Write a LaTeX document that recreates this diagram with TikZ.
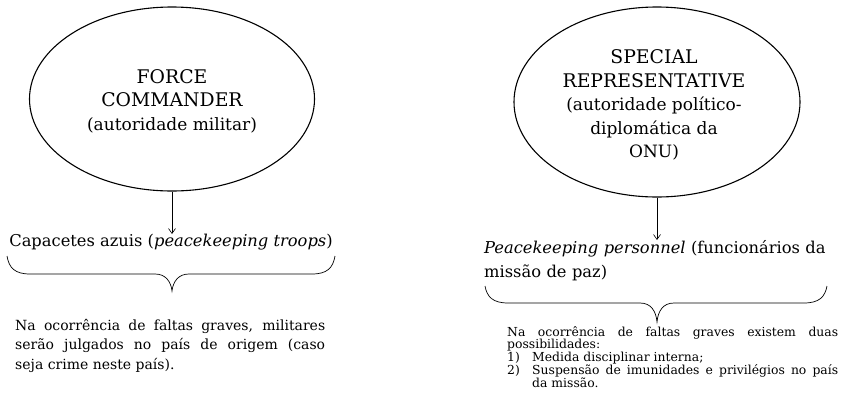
\documentclass[tikz,border=0pt]{standalone}
\usepackage{fontspec}
\setmainfont{DejaVu Serif}
\usetikzlibrary{shapes.geometric,arrows.meta}
\newcommand{\capsz}{\fontsize{18.8}{23.5}\selectfont}
\newcommand{\lowsz}{\fontsize{17}{23.5}\selectfont}
\tikzset{
  oval/.style={ellipse, draw, line width=1.1pt, inner sep=0pt, align=center,
    font=\lowsz},
  arr/.style={-{Straight Barb[length=5pt,width=7pt]}, line width=0.6pt},
  bigtext/.style={inner sep=0pt, font=\fontsize{16.3}{24}\selectfont},
  para/.style={inner sep=0pt, align=justify},
  bracepath/.style={line width=0.7pt}
}
\begin{document}
\begin{tikzpicture}[x=1pt,y=-1pt]
\useasboundingbox (0,0) rectangle (844,408);
% left column
\node[oval, minimum width=285, minimum height=184] (fc) at (172,99) {};
\node[inner sep=0pt, align=center, font=\lowsz] (fct) at (172,101)
  {{\capsz FORCE}\\{\capsz COMMANDER}\\(autoridade militar)};
\node[bigtext, anchor=north] (cap) at (171,234)
  {Capacetes azuis (\textit{peacekeeping troops})};
\draw[arr] (fc.south) -- (cap.north -| fc.south);
\draw[bracepath] (7,256) .. controls (9,268) and (15,274) .. (30,274)
  -- (155,274) .. controls (166,274) and (171,282) .. (172,291)
  .. controls (173,282) and (178,274) .. (189,274)
  -- (312,274) .. controls (327,274) and (333,268) .. (335,256);
\node[para, text width=310, anchor=north west,
  font=\fontsize{14}{19.5}\selectfont] (lp) at (15,319)
  {\hyphenpenalty=10000 Na ocorrência de faltas graves, militares serão julgados no país de origem (caso\linebreak seja crime neste país).};
% right column
\node[oval, minimum width=286, minimum height=190] (sr) at (657,102) {};
\node[inner sep=0pt, align=center, font=\lowsz] (srt) at (654,105)
  {{\capsz SPECIAL}\\{\capsz REPRESENTATIVE}\\(autoridade político-\\diplomática da\\ONU)};
\node[bigtext, text width=346, align=left, anchor=north west] (pk) at (484,240)
  {\textit{Peacekeeping personnel} (funcionários da missão de paz)};
\draw[arr] (sr.south) -- (sr.south |- pk.north);
\draw[bracepath] (485,286) .. controls (487,297) and (493,303) .. (508,303)
  -- (640,303) .. controls (651,303) and (656,311) .. (657,322)
  .. controls (658,311) and (663,303) .. (674,303)
  -- (804,303) .. controls (819,303) and (825,297) .. (827,286);
\node[para, text width=331, anchor=north west,
  font=\fontsize{12.4}{12.8}\selectfont] (rp) at (507,326)
  {\hyphenpenalty=10000 Na ocorrência de faltas graves existem duas possibilidades:\par
   \noindent\hangindent=25pt\hangafter=1\makebox[25pt][l]{1)}Medida disciplinar interna;\par
   \noindent\hangindent=25pt\hangafter=1\makebox[25pt][l]{2)}Suspensão de imunidades e privilégios no país\linebreak da missão.\par};
\end{tikzpicture}
\end{document}
